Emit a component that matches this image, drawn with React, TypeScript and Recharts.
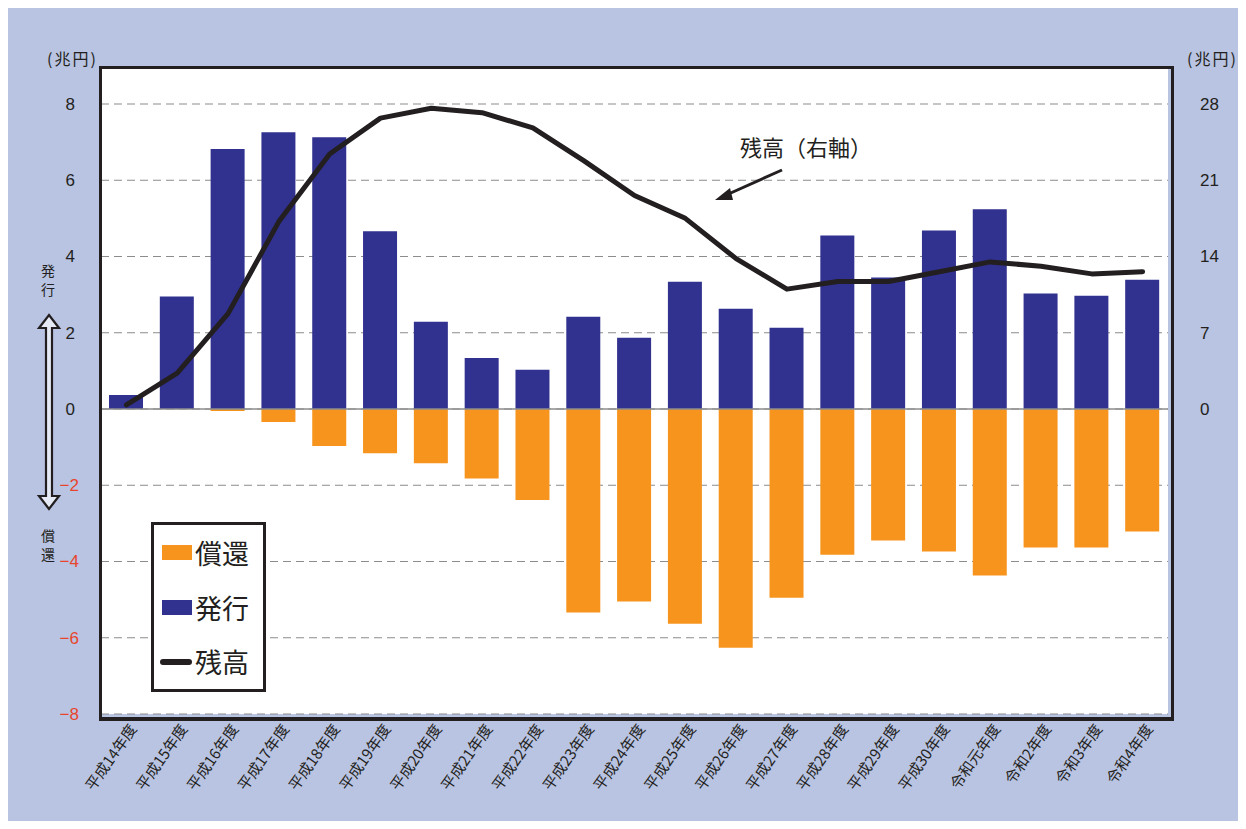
import React from "react";
import {
  ComposedChart,
  Bar,
  Line,
  XAxis,
  YAxis,
  CartesianGrid,
  ReferenceLine,
} from "recharts";

const categories = [
  "平成14年度", "平成15年度", "平成16年度", "平成17年度", "平成18年度", "平成19年度",
  "平成20年度", "平成21年度", "平成22年度", "平成23年度", "平成24年度", "平成25年度",
  "平成26年度", "平成27年度", "平成28年度", "平成29年度", "平成30年度", "令和元年度",
  "令和2年度", "令和3年度", "令和4年度",
];
const issuance = [0.37, 2.95, 6.82, 7.26, 7.13, 4.66, 2.29, 1.34, 1.03, 2.42, 1.87, 3.34, 2.63, 2.13, 4.55, 3.45, 4.68, 5.24, 3.03, 2.97, 3.39];
const redemption = [0, 0, -0.05, -0.34, -0.97, -1.16, -1.42, -1.82, -2.39, -5.34, -5.05, -5.63, -6.26, -4.95, -3.82, -3.45, -3.74, -4.37, -3.63, -3.63, -3.21];
const balance = [0.37, 3.3, 8.75, 17.2, 23.4, 26.7, 27.6, 27.2, 25.8, 22.8, 19.6, 17.5, 13.8, 11.0, 11.7, 11.7, 12.6, 13.5, 13.1, 12.4, 12.6];
const leftTicks = [-8, -6, -4, -2, 0, 2, 4, 6, 8];
const rightTicks = [0, 7, 14, 21, 28];
const seriesNames = { redemption: "償還", issuance: "発行", balance: "残高" };

const data = categories.map((c, i) => ({
  name: c,
  redemption: redemption[i],
  issuance: issuance[i],
  balance: balance[i],
}));

const BG = "#B9C3E2";
const NAVY = "#31318F";
const ORANGE = "#F7941D";
const INK = "#231F20";
const FONT = "'Liberation Sans', Arial, sans-serif";
const JFONT = "'Noto Sans CJK JP', sans-serif";

const LeftTick = (props: any) => {
  const { x, y, payload } = props;
  const v = payload.value as number;
  const neg = v < 0;
  return (
    <text
      x={neg ? x - 14 : x - 18}
      y={y}
      dy={6}
      textAnchor="end"
      fontSize={17}
      fontFamily={FONT}
      fill={neg ? "#E8452C" : "#231F20"}
    >
      {neg ? "\u2212" + Math.abs(v) : String(v)}
    </text>
  );
};

const RightTick = (props: any) => {
  const { x, y, payload } = props;
  return (
    <text x={x + 24} y={y} dy={6} textAnchor="start" fontSize={17} fontFamily={FONT} fill="#231F20">
      {payload.value}
    </text>
  );
};

const XTick = (props: any) => {
  const { x, y, payload } = props;
  return (
    <g transform={`translate(${x + 11},${y + 7})`}>
      <text
        transform="rotate(-55)"
        textAnchor="end"
        fontSize={15}
        fontFamily={JFONT}
        fill="#231F20"
      >
        {payload.value}
      </text>
    </g>
  );
};

const LegendBox = () => {
  const row: React.CSSProperties = {
    display: "flex",
    alignItems: "center",
    height: 56,
    fontSize: 27,
    fontFamily: JFONT,
    color: "#231F20",
  };
  return (
    <div
      style={{
        position: "absolute",
        left: 143,
        top: 514,
        width: 109,
        height: 164,
        border: `3px solid ${INK}`,
        background: "#fff",
        boxSizing: "content-box",
        display: "flex",
        flexDirection: "column",
        justifyContent: "center",
      }}
    >
      <div style={row}>
        <span style={{ display: "inline-block", width: 30, height: 15, background: ORANGE, marginLeft: 8, marginRight: 3 }} />
        {seriesNames.redemption}
      </div>
      <div style={row}>
        <span style={{ display: "inline-block", width: 30, height: 15, background: NAVY, marginLeft: 8, marginRight: 3 }} />
        {seriesNames.issuance}
      </div>
      <div style={row}>
        <span style={{ display: "inline-block", width: 32, height: 6, borderRadius: 3, background: INK, marginLeft: 6, marginRight: 3 }} />
        {seriesNames.balance}
      </div>
    </div>
  );
};

export default function App() {
  return (
    <div style={{ position: "relative", width: 1230, height: 813, background: BG, overflow: "hidden" }}>
      <ComposedChart
        width={1230}
        height={813}
        data={data}
        stackOffset="sign"
        margin={{ top: 60, right: 20, bottom: 7, left: 43 }}
      >
        <CartesianGrid
          yAxisId="left"
          vertical={false}
          horizontal={true}
          fill="#ffffff"
          fillOpacity={1}
          stroke="#8c8c8c"
          strokeDasharray="8 5"
          strokeWidth={1.2}
        />
        <XAxis
          dataKey="name"
          height={100}
          axisLine={false}
          tickLine={false}
          interval={0}
          tick={<XTick />}
        />
        <YAxis
          yAxisId="left"
          width={50}
          domain={[-8, 8.944]}
          ticks={leftTicks}
          allowDataOverflow
          axisLine={false}
          tickLine={false}
          tick={<LeftTick />}
        />
        <YAxis
          yAxisId="right"
          orientation="right"
          width={50}
          domain={[-28, 31.3]}
          ticks={rightTicks}
          allowDataOverflow
          axisLine={false}
          tickLine={false}
          tick={<RightTick />}
        />
        <ReferenceLine yAxisId="left" y={0} stroke="#8c8c8c" strokeWidth={1.5} />
        <Bar yAxisId="left" dataKey="redemption" name={seriesNames.redemption} stackId="a" fill={ORANGE} barSize={34} isAnimationActive={false} />
        <Bar yAxisId="left" dataKey="issuance" name={seriesNames.issuance} stackId="a" fill={NAVY} barSize={34} isAnimationActive={false} />
        <Line
          yAxisId="right"
          dataKey="balance"
          name={seriesNames.balance}
          type="linear"
          stroke={INK}
          strokeWidth={5}
          dot={false}
          strokeLinecap="round"
          strokeLinejoin="round"
          isAnimationActive={false}
        />
      </ComposedChart>

      {/* plot frame */}
      <div
        style={{
          position: "absolute",
          left: 91,
          top: 58,
          width: 1069,
          height: 648,
          border: `3px solid ${INK}`,
          borderBottomWidth: 4,
          pointerEvents: "none",
          boxSizing: "content-box",
        }}
      />

      <LegendBox />

      {/* unit labels */}
      <div style={{ position: "absolute", left: 39, top: 38, fontSize: 16, letterSpacing: 2, fontFamily: JFONT, color: "#231F20" }}>(兆円)</div>
      <div style={{ position: "absolute", left: 1179, top: 38, fontSize: 16, letterSpacing: 2, fontFamily: JFONT, color: "#231F20" }}>(兆円)</div>

      {/* side annotations */}
      <div style={{ position: "absolute", left: 33, top: 253, width: 16, fontSize: 14, lineHeight: "19px", fontFamily: JFONT, color: "#231F20" }}>
        発<br />行
      </div>
      <div style={{ position: "absolute", left: 33, top: 518, width: 16, fontSize: 14, lineHeight: "19px", fontFamily: JFONT, color: "#231F20" }}>
        償<br />還
      </div>
      <svg style={{ position: "absolute", left: 28, top: 304, pointerEvents: "none" }} width={26} height={200}>
        <polygon
          points="13,3 23,16 16,16 16,184 23,184 13,197 3,184 10,184 10,16 3,16"
          fill="#E6EAF5"
          stroke={INK}
          strokeWidth={2.2}
          strokeLinejoin="miter"
        />
      </svg>

      {/* balance annotation */}
      <div style={{ position: "absolute", left: 732, top: 122, fontSize: 22, fontFamily: JFONT, color: "#231F20", whiteSpace: "nowrap" }}>
        残高（右軸）
      </div>
      <svg style={{ position: "absolute", left: 0, top: 0, pointerEvents: "none" }} width={1230} height={813}>
        <line x1={774} y1={162} x2={716} y2={188} stroke={INK} strokeWidth={3} />
        <polygon points="707,192 722,180 725,192" fill={INK} />
      </svg>
    </div>
  );
}
